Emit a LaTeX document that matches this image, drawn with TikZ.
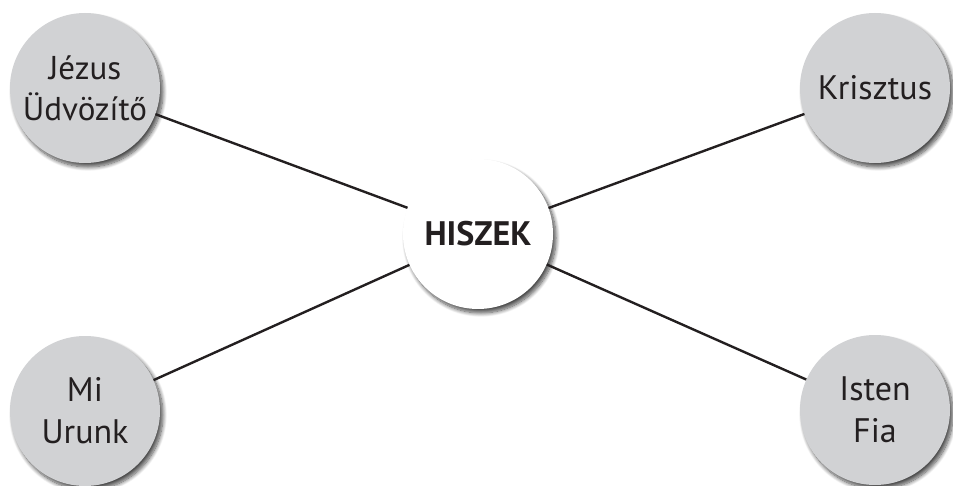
\documentclass[tikz,border=0pt]{standalone}
\usepackage{fontspec}
\setmainfont{PT Sans}
\usetikzlibrary{shadows.blur}
\definecolor{bubble}{HTML}{D1D2D4}
\definecolor{ink}{HTML}{231F20}
\tikzset{
  bubble/.style={circle, minimum size=150pt, inner sep=0pt, fill=#1, align=center,
    font=\fontsize{34}{42}\selectfont, text=ink,
    blur shadow={shadow xshift=3pt, shadow yshift=-4pt, shadow blur radius=4pt, shadow blur steps=10, shadow opacity=70}},
  bubble/.default=bubble,
  link/.style={line width=2.4pt, draw=ink}
}
\begin{document}
\begin{tikzpicture}[x=1pt,y=-1pt]
\useasboundingbox (0,0) rectangle (953,486);
\node[bubble, font=\fontsize{33}{41}\selectfont] (tl) at (85,88) {Jézus\\Üdvözítő};
\node[bubble] (tr) at (875,88) {Krisztus};
\node[bubble] (bl) at (85,411) {Mi\\Urunk};
\node[bubble] (br) at (875,410) {Isten\\Fia};
\node[bubble=white, font=\fontsize{34}{42}\selectfont\bfseries] (c) at (478,234) {HISZEK};
\draw[link] (tl) -- (c);
\draw[link] (tr) -- (c);
\draw[link] (bl) -- (c);
\draw[link] (br) -- (c);
\end{tikzpicture}
\end{document}
